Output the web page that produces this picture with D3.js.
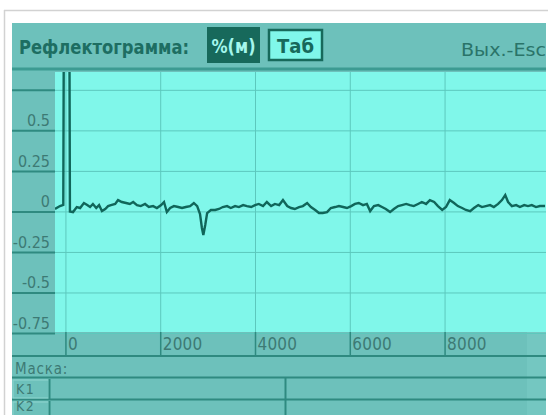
<!DOCTYPE html>
<html>
<head>
<meta charset="utf-8">
<script src="https://cdn.jsdelivr.net/npm/d3@7"></script>
<style>
  body { margin: 0; background: #ffffff; }
  svg { display: block; }
</style>
</head>
<body>
<script>
// Trace distance (m) and reflection level
const distances = [-220, -115, -45, -30, 80, 95, 160, 240, 310, 390, 460, 520, 580, 650, 710, 770, 840, 900, 960,
  1050, 1110, 1190, 1280, 1360, 1430, 1510, 1590, 1680, 1760, 1850, 1930, 2020, 2080, 2140, 2210, 2290, 2380,
  2460, 2540, 2630, 2710, 2780, 2840, 2880, 2910, 2950, 2990, 3070, 3160, 3240, 3320, 3410, 3490, 3580, 3660,
  3750, 3830, 3920, 4000, 4080, 4170, 4250, 4340, 4420, 4510, 4590, 4680, 4760, 4840, 4930, 5010, 5100, 5180,
  5270, 5350, 5430, 5520, 5600, 5690, 5770, 5860, 5940, 6030, 6110, 6190, 6280, 6360, 6430, 6510, 6600, 6680,
  6760, 6850, 6930, 7020, 7100, 7190, 7270, 7350, 7440, 7520, 7610, 7690, 7780, 7860, 7950, 8030, 8110, 8200,
  8280, 8370, 8450, 8540, 8620, 8710, 8790, 8870, 8960, 9040, 9130, 9210, 9280, 9340, 9420, 9510, 9590, 9680,
  9760, 9840, 9930, 10010, 10120];
const levels = [0.015, 0.033, 0.040, 1.500, 1.500, 0.000, -0.004, 0.027, 0.021, 0.052, 0.039, 0.027, 0.046, 0.021, 0.039, 0.002, 0.015, 0.033, 0.039,
  0.046, 0.070, 0.058, 0.052, 0.046, 0.058, 0.039, 0.033, 0.046, 0.027, 0.033, 0.021, 0.039, 0.058, -0.004, 0.021, 0.033, 0.027,
  0.021, 0.027, 0.033, 0.052, 0.033, -0.016, -0.102, -0.146, -0.084, -0.010, 0.009, 0.009, 0.015, 0.027, 0.033, 0.021, 0.033, 0.027,
  0.039, 0.033, 0.027, 0.039, 0.046, 0.033, 0.058, 0.033, 0.046, 0.039, 0.070, 0.033, 0.021, 0.015, 0.027, 0.033, 0.052, 0.027,
  0.009, -0.010, -0.010, -0.004, 0.021, 0.027, 0.033, 0.027, 0.021, 0.033, 0.046, 0.052, 0.039, 0.046, 0.002, 0.033, 0.039, 0.027,
  0.015, -0.004, 0.015, 0.033, 0.039, 0.046, 0.039, 0.033, 0.046, 0.058, 0.046, 0.070, 0.058, 0.033, 0.009, 0.027, 0.070, 0.052,
  0.033, 0.021, 0.009, 0.002, 0.021, 0.039, 0.027, 0.033, 0.039, 0.027, 0.046, 0.070, 0.101, 0.058, 0.033, 0.039, 0.027, 0.039,
  0.033, 0.039, 0.027, 0.033, 0.033];

const xTicks = [0, 2000, 4000, 6000, 8000];
const xTickLabels = ["0", "2000", "4000", "6000", "8000"];
const yTicks = [0.75, 0.5, 0.25, 0, -0.25, -0.5, -0.75];
const yTickLabels = ["", "0.5", "0.25", "0", "-0.25", "-0.5", "-0.75"];

const titleText = "Рефлектограмма:";
const modeLabels = ["%(м)", "Таб"];
const exitText = "Вых.-Esc";
const maskTitle = "Маска:";
const maskRows = ["K1", "K2"];

// Palette
const C = {
  frame: "#d2d2d2",
  panel: "#6dc1bb",
  plot: "#80f7ea",
  dark: "#17695b",
  rule: "#2f8a80",
  grid: "#5cc8bd",
  label: "#3d7a74",
  trace: "#10665a"
};

const W = 548, H = 415;
const L = 12, R = 546;            // content edges
const plotL = 55, plotT = 72, plotB = 332;
const stripB = 355;
const thin = "'DejaVu Sans Condensed', 'DejaVu Sans', sans-serif";

const svg = d3.select("body").append("svg").attr("width", W).attr("height", H);

// outer frame
svg.append("rect").attr("x", 0).attr("y", 0).attr("width", W).attr("height", H).attr("fill", "#fff");
svg.append("line").attr("x1", 4).attr("x2", W).attr("y1", 10.5).attr("y2", 10.5)
  .attr("stroke", C.frame).attr("stroke-width", 1.5);
svg.append("line").attr("x1", 4.5).attr("x2", 4.5).attr("y1", 10).attr("y2", H)
  .attr("stroke", C.frame).attr("stroke-width", 1.5);

// panels
svg.append("rect").attr("x", L).attr("y", 23).attr("width", R - L).attr("height", H - 23).attr("fill", C.panel);
svg.append("rect").attr("x", plotL).attr("y", plotT).attr("width", R - plotL).attr("height", plotB - plotT).attr("fill", C.plot);
svg.append("rect").attr("x", 527).attr("y", plotB).attr("width", R - 527).attr("height", H - plotB).attr("fill", "#74c7c1");

// header rule
svg.append("line").attr("x1", L).attr("x2", R).attr("y1", 69).attr("y2", 69)
  .attr("stroke", "#3c9b92").attr("stroke-width", 3);

// scales
const x = d3.scaleLinear().domain([-220, 10140]).range([plotL, R]);
const y = d3.scaleLinear().domain([-0.75, 0.86]).range([333, plotT]);

// grid
svg.append("g").attr("transform", `translate(${plotL},0)`)
  .call(d3.axisLeft(y).tickValues(yTicks).tickSize(-(R - plotL)).tickFormat(""))
  .call(g => g.select(".domain").remove())
  .call(g => g.selectAll("line").attr("stroke", C.grid).attr("stroke-width", 1));
svg.append("g").attr("transform", `translate(0,${plotB})`)
  .call(d3.axisBottom(x).tickValues(xTicks).tickSize(-(plotB - plotT)).tickFormat(""))
  .call(g => g.select(".domain").remove())
  .call(g => g.selectAll("line").attr("stroke", C.grid).attr("stroke-width", 1));

// y axis ticks spanning left panel, labels sitting above each rule
svg.append("g").attr("transform", `translate(${plotL},0)`)
  .call(d3.axisLeft(y).tickValues(yTicks).tickSize(plotL - L).tickPadding(5)
    .tickFormat((d, i) => yTickLabels[i]))
  .call(g => g.select(".domain").remove())
  .call(g => g.selectAll("line").attr("stroke", C.rule).attr("stroke-width", 2))
  .call(g => g.selectAll("text")
    .attr("x", -5).attr("dy", "-0.3em")
    .attr("fill", C.label)
    .attr("font-family", thin)
    .attr("font-size", 16));

// x axis strip
svg.append("g").attr("transform", `translate(0,${plotB})`)
  .call(d3.axisBottom(x).tickValues(xTicks).tickSize(stripB - plotB).tickFormat((d, i) => xTickLabels[i]))
  .call(g => g.select(".domain").remove())
  .call(g => g.selectAll("line").attr("stroke", C.rule).attr("stroke-width", 1.5))
  .call(g => g.selectAll("text")
    .attr("text-anchor", "start").attr("x", 2).attr("y", 18).attr("dy", 0)
    .attr("fill", C.label)
    .attr("font-family", thin)
    .attr("font-size", 17).attr("letter-spacing", 0.2));

// trace
svg.append("clipPath").attr("id", "plot-clip")
  .append("rect").attr("x", plotL).attr("y", plotT).attr("width", R - plotL).attr("height", plotB - plotT);
const line = d3.line().x(d => x(d[0])).y(d => y(d[1]));
svg.append("path")
  .datum(distances.map((d, i) => [d, levels[i]]))
  .attr("clip-path", "url(#plot-clip)")
  .attr("d", line)
  .attr("fill", "none")
  .attr("stroke", C.trace)
  .attr("stroke-width", 2.4)
  .attr("stroke-linejoin", "miter");

// header texts
svg.append("text").attr("x", 19).attr("y", 54).text(titleText)
  .attr("font-family", thin).attr("font-weight", "bold").attr("font-size", 20)
  .attr("fill", "#1d6e62").attr("textLength", 170).attr("lengthAdjust", "spacingAndGlyphs");

svg.append("rect").attr("x", 207).attr("y", 27).attr("width", 53).attr("height", 36).attr("fill", C.dark);
svg.append("text").attr("x", 233.5).attr("y", 53).attr("text-anchor", "middle").text(modeLabels[0])
  .attr("font-family", thin).attr("font-weight", "bold").attr("font-size", 19).attr("fill", "#a4f6ec")
  .attr("textLength", 44).attr("lengthAdjust", "spacingAndGlyphs");

svg.append("rect").attr("x", 269).attr("y", 30).attr("width", 53).attr("height", 30)
  .attr("fill", C.plot).attr("stroke", C.dark).attr("stroke-width", 2.5);
svg.append("text").attr("x", 295.5).attr("y", 53).attr("text-anchor", "middle").text(modeLabels[1])
  .attr("font-family", thin).attr("font-weight", "bold").attr("font-size", 20).attr("fill", C.dark);

svg.append("text").attr("x", 461).attr("y", 56).text(exitText)
  .attr("font-family", thin).attr("font-size", 17)
  .attr("fill", "#2a7469").attr("textLength", 85).attr("lengthAdjust", "spacingAndGlyphs");

// mask table
[356, 377.5, 399.5].forEach(yy => {
  svg.append("line").attr("x1", L).attr("x2", R).attr("y1", yy).attr("y2", yy)
    .attr("stroke", C.rule).attr("stroke-width", 2);
});
svg.append("text").attr("x", 15).attr("y", 374).text(maskTitle)
  .attr("font-family", thin).attr("font-size", 15)
  .attr("fill", C.label).attr("letter-spacing", 0.8);

const maskBaselines = [394, 411];
maskRows.forEach((k, i) => {
  const top = 379 + i * 22;
  svg.append("rect").attr("x", 13).attr("y", top + 1).attr("width", 36).attr("height", 18)
    .attr("fill", "none").attr("stroke", "#8fd6cf").attr("stroke-width", 1);
  svg.append("text").attr("x", 16).attr("y", maskBaselines[i]).text(k)
    .attr("font-family", thin).attr("font-size", 14)
    .attr("fill", C.label).attr("letter-spacing", 1.5);
  svg.append("line").attr("x1", 49.5).attr("x2", 49.5).attr("y1", top).attr("y2", top + 20)
    .attr("stroke", C.rule).attr("stroke-width", 2);
});
svg.append("line").attr("x1", 285.5).attr("x2", 285.5).attr("y1", 378).attr("y2", H)
  .attr("stroke", C.rule).attr("stroke-width", 2);
</script>
</body>
</html>
